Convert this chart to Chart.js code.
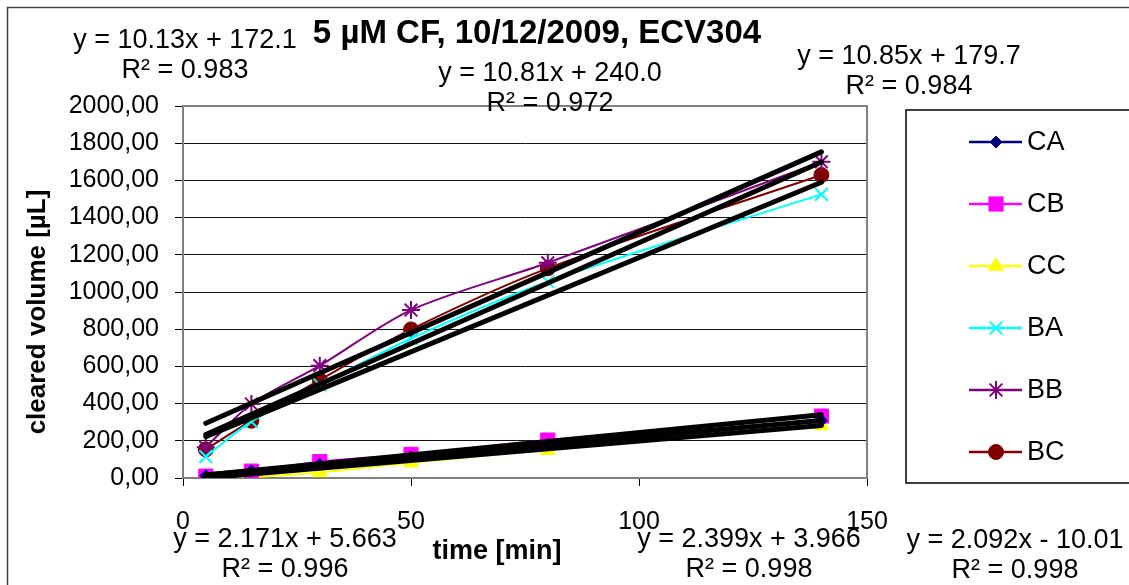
<!DOCTYPE html>
<html>
<head>
<meta charset="utf-8">
<script src="https://cdn.jsdelivr.net/npm/chart.js@4/dist/chart.umd.min.js"></script>
<style>
  html, body { margin: 0; padding: 0; background: #fff; }
  #wrap { width: 1129px; height: 585px; position: relative; }
</style>
</head>
<body>
<div id="wrap"><canvas id="c" width="1129" height="585"></canvas></div>
<script>
// Sampling times [min]
const timeMin = [5, 15, 30, 50, 80, 140];

// Cleared volume [µL] per well
const seriesNames = ['CA', 'CB', 'CC', 'BA', 'BB', 'BC'];
const CA = [12, 38, 72, 113, 180, 310];
const CB = [10, 37, 88, 127, 204, 333];
const CC = [2, 5, 30, 82, 150, 282];
const BA = [115, 303, 500, 750, 1055, 1525];
const BB = [165, 398, 604, 903, 1157, 1700];
const BC = [154, 308, 527, 799, 1127, 1629];

// Linear trendlines (same order as the series)
const slopes     = [2.171, 2.399, 2.092, 10.13, 10.81, 10.85];
const intercepts = [5.663, 3.966, -10.01, 172.1, 240.0, 179.7];
const rSquared   = ['0.996', '0.998', '0.998', '0.983', '0.972', '0.984'];

// Axis ticks
const xTickValues = [0, 50, 100, 150];
const yTickValues = [0, 200, 400, 600, 800, 1000, 1200, 1400, 1600, 1800, 2000];

const titleText = '5 µM CF, 10/12/2009, ECV304';
const xTitle = 'time [min]';
const yTitle = 'cleared volume [µL]';

// Styling
const colors = ['#000080', '#ff00ff', '#ffff00', '#00ffff', '#800080', '#800000'];
const markers = [
  { style: 'rectRot', r: 6, bw: 1 },
  { style: 'rect', r: 10, bw: 1 },
  { style: 'triangle', r: 8.5, bw: 1 },
  { style: 'crossRot', r: 9, bw: 2 },
  { style: 'star', r: 9, bw: 2 },
  { style: 'circle', r: 7.5, bw: 1 }
];
// Where each trendline's equation is written: [centre x, first baseline]
const eqLabelPos = [
  [285, 547], [749, 547], [1015, 548],
  [185, 48], [550, 81], [909, 64]
];
const FONT = '"Liberation Sans", Arial, Helvetica, sans-serif';

const values = [CA, CB, CC, BA, BB, BC];

const dataDatasets = seriesNames.map((name, i) => ({
  label: name,
  data: timeMin.map((t, k) => ({ x: t, y: values[i][k] })),
  borderColor: colors[i],
  backgroundColor: colors[i],
  borderWidth: 2,
  pointStyle: markers[i].style,
  pointRadius: markers[i].r,
  pointBorderWidth: markers[i].bw,
  pointBackgroundColor: colors[i],
  pointBorderColor: colors[i],
  tension: 0.3,
  order: 1
}));

const tStart = timeMin[0], tEnd = timeMin[timeMin.length - 1];
const trendDatasets = seriesNames.map((name, i) => ({
  label: 'trend ' + name,
  data: [
    { x: tStart, y: slopes[i] * tStart + intercepts[i] },
    { x: tEnd, y: slopes[i] * tEnd + intercepts[i] }
  ],
  borderColor: '#000',
  borderWidth: 5,
  borderCapStyle: 'round',
  pointRadius: 0,
  tension: 0,
  order: 0
}));

function fmtEq(i) {
  const m = slopes[i].toPrecision(4);
  const b = intercepts[i];
  const sign = b < 0 ? ' - ' : ' + ';
  return 'y = ' + m + 'x' + sign + Math.abs(b).toPrecision(4);
}

const decorations = {
  id: 'decorations',
  afterDraw(chart) {
    const ctx = chart.ctx;
    const a = chart.chartArea;
    ctx.save();

    // outer frame
    ctx.strokeStyle = '#404040';
    ctx.lineWidth = 1.5;
    ctx.beginPath();
    ctx.moveTo(7.5, 585);
    ctx.lineTo(7.5, 7.5);
    ctx.lineTo(1129, 7.5);
    ctx.stroke();

    // plot area top/right border
    ctx.strokeStyle = '#808080';
    ctx.lineWidth = 2;
    ctx.beginPath();
    ctx.moveTo(a.left, a.top);
    ctx.lineTo(a.right, a.top);
    ctx.lineTo(a.right, a.bottom);
    ctx.stroke();

    ctx.fillStyle = '#000';
    ctx.textBaseline = 'alphabetic';
    ctx.textAlign = 'center';

    // title
    ctx.font = 'bold 33px ' + FONT;
    ctx.fillText(titleText, 537, 43);

    // trendline equations
    ctx.font = '27px ' + FONT;
    for (let i = 0; i < slopes.length; i++) {
      const [cx, by] = eqLabelPos[i];
      ctx.fillText(fmtEq(i), cx, by);
      ctx.fillText('R² = ' + rSquared[i], cx, by + 30);
    }

    // axis titles
    ctx.font = 'bold 27px ' + FONT;
    ctx.fillText(xTitle, 497, 559);
    ctx.save();
    ctx.translate(45, 312);
    ctx.rotate(-Math.PI / 2);
    ctx.font = 'bold 26px ' + FONT;
    ctx.fillText(yTitle, 0, 0);
    ctx.restore();

    // legend
    ctx.strokeStyle = '#000';
    ctx.lineWidth = 1.5;
    ctx.strokeRect(906, 110, 240, 373);
    ctx.font = '27px ' + FONT;
    ctx.textAlign = 'left';
    ctx.textBaseline = 'middle';
    const drawPoint = Chart.helpers && Chart.helpers.drawPoint;
    for (let i = 0; i < seriesNames.length; i++) {
      const y = 142 + i * 62;
      ctx.strokeStyle = colors[i];
      ctx.lineWidth = 2.5;
      ctx.beginPath();
      ctx.moveTo(969, y);
      ctx.lineTo(1022, y);
      ctx.stroke();
      ctx.fillStyle = colors[i];
      ctx.lineWidth = markers[i].bw;
      if (drawPoint) {
        drawPoint(ctx, { pointStyle: markers[i].style, radius: markers[i].r, rotation: 0, borderWidth: markers[i].bw }, 996, y);
      } else {
        ctx.beginPath(); ctx.arc(996, y, 6, 0, Math.PI * 2); ctx.fill();
      }
      ctx.fillStyle = '#000';
      ctx.fillText(seriesNames[i], 1027, y + 1);
    }
    ctx.restore();
  }
};

new Chart(document.getElementById('c'), {
  type: 'line',
  data: { datasets: trendDatasets.concat(dataDatasets) },
  options: {
    responsive: false,
    animation: false,
    events: [],
    layout: { padding: { top: 106, right: 262, left: 0, bottom: 0 } },
    plugins: { legend: { display: false }, tooltip: { enabled: false } },
    scales: {
      x: {
        type: 'linear',
        min: 0, max: 150,
        afterBuildTicks: s => { s.ticks = xTickValues.map(v => ({ value: v })); },
        afterFit: s => { s.height = 107; },
        grid: { drawOnChartArea: false, drawTicks: true, tickLength: 8, tickColor: '#000', lineWidth: 1 },
        border: { display: true, color: '#808080', width: 2 },
        ticks: { font: { family: FONT, size: 25 }, color: '#000', padding: 21, maxRotation: 0, autoSkip: false }
      },
      y: {
        type: 'linear',
        min: 0, max: 2000,
        afterBuildTicks: s => { s.ticks = yTickValues.map(v => ({ value: v })); },
        afterFit: s => { s.width = 183; },
        grid: { color: '#111', lineWidth: 1, tickLength: 8, tickColor: '#000' },
        border: { display: true, color: '#808080', width: 2 },
        ticks: {
          font: { family: FONT, size: 25 }, color: '#000', padding: 16, autoSkip: false,
          callback: v => v.toFixed(2).replace('.', ',')
        }
      }
    }
  },
  plugins: [decorations]
});
</script>
</body>
</html>
